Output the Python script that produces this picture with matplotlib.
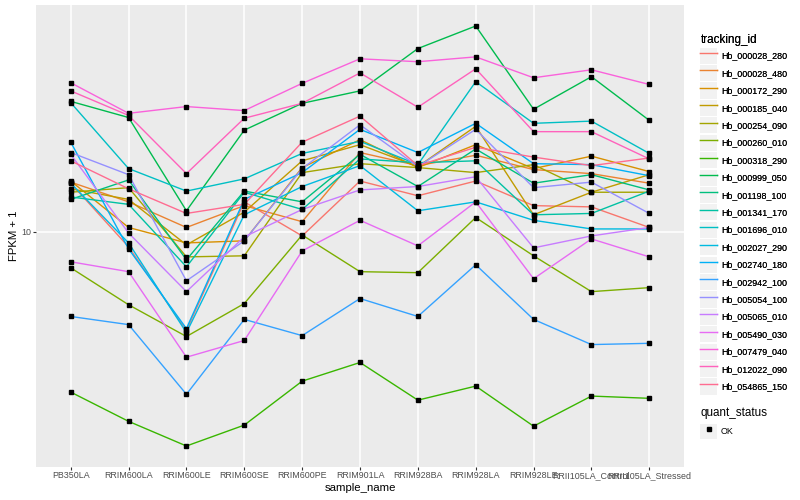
import numpy as np
import matplotlib.pyplot as plt
from matplotlib.lines import Line2D
from matplotlib.patches import Patch
from matplotlib.ticker import NullLocator

plt.rcParams['font.family'] = ['Liberation Sans', 'DejaVu Sans']

samples = ['PB350LA', 'RRIM600LA', 'RRIM600LE', 'RRIM600SE', 'RRIM600PE',
           'RRIM901LA', 'RRIM928BA', 'RRIM928LA', 'RRIM928LE',
           'RRII105LA_Control', 'RRII105LA_Stressed']

tracking_ids = ['Hb_000028_280', 'Hb_000028_480', 'Hb_000172_290', 'Hb_000185_040',
                'Hb_000254_090', 'Hb_000260_010', 'Hb_000318_290', 'Hb_000999_050',
                'Hb_001198_100', 'Hb_001341_170', 'Hb_001696_010', 'Hb_002027_290',
                'Hb_002740_180', 'Hb_002942_100', 'Hb_005054_100', 'Hb_005065_010',
                'Hb_005490_030', 'Hb_007479_040', 'Hb_012022_090', 'Hb_054865_150']

# ggplot default hue palette for 20 groups
colors = ['#F8766D', '#EA8331', '#D89000', '#C09B00', '#A3A500', '#7CAE00',
          '#39B600', '#00BB4E', '#00BF7D', '#00C1A3', '#00BFC4', '#00BAE0',
          '#00B0F6', '#35A2FF', '#9590FF', '#C77CFF', '#E76BF3', '#FA62DB',
          '#FF62BC', '#FF6C91']

# FPKM + 1, one list per tracking id (order follows samples)
hb_000028_280 = [13.8, 9.06, 5.21, 12.2, 9.74, 14.0, 12.7, 14.0, 11.9, 11.8, 10.3]
hb_000028_480 = [13.9, 12.2, 10.3, 11.9, 10.7, 16.9, 15.5, 16.6, 15.1, 14.7, 13.8]
hb_000172_290 = [14.0, 10.3, 9.30, 9.43, 15.3, 18.4, 15.3, 17.8, 15.2, 16.5, 14.9]
hb_000185_040 = [13.3, 12.4, 9.18, 11.4, 16.0, 17.8, 15.4, 20.1, 11.2, 13.0, 14.6]
hb_000254_090 = [13.0, 13.4, 8.48, 8.54, 14.8, 15.7, 15.3, 14.8, 15.6, 13.0, 13.0]
hb_000260_010 = [7.89, 6.18, 5.01, 6.23, 9.80, 7.69, 7.64, 11.0, 8.54, 6.74, 6.92]
hb_000318_290 = [3.47, 2.86, 2.43, 2.79, 3.73, 4.22, 3.29, 3.61, 2.77, 3.38, 3.33]
hb_000999_050 = [23.7, 21.3, 11.5, 19.6, 23.4, 25.4, 33.6, 39.0, 22.5, 27.9, 20.9]
hb_001198_100 = [12.4, 14.1, 8.32, 13.1, 12.2, 16.7, 13.5, 17.3, 13.8, 14.6, 13.2]
hb_001341_170 = [12.6, 12.0, 7.94, 13.0, 11.6, 16.2, 15.8, 16.0, 11.2, 11.3, 13.1]
hb_001696_010 = [23.5, 15.2, 13.1, 14.2, 16.8, 18.2, 15.6, 27.0, 20.5, 20.8, 16.8]
hb_002027_290 = [13.8, 9.30, 5.14, 11.2, 13.5, 15.5, 11.5, 12.2, 10.8, 10.2, 10.2]
hb_002740_180 = [18.1, 8.94, 5.28, 12.4, 14.8, 19.7, 16.9, 20.5, 15.7, 15.6, 14.5]
hb_002942_100 = [5.72, 5.42, 3.42, 5.61, 5.04, 6.44, 5.72, 8.05, 5.61, 4.75, 4.79]
hb_005054_100 = [16.9, 14.6, 7.24, 9.43, 15.2, 20.3, 15.4, 19.7, 13.4, 13.9, 11.3]
hb_005065_010 = [16.7, 9.93, 6.74, 9.68, 11.6, 13.2, 13.5, 14.4, 9.00, 9.74, 10.3]
hb_005490_030 = [8.21, 7.69, 4.37, 4.88, 8.82, 10.8, 9.12, 12.2, 7.34, 9.55, 8.48]
hb_007479_040 = [26.8, 21.9, 22.9, 22.3, 26.7, 31.4, 30.8, 31.8, 27.7, 29.2, 26.5]
hb_012022_090 = [25.4, 21.6, 14.7, 21.2, 23.4, 28.6, 22.8, 29.4, 19.4, 19.4, 16.2]
hb_054865_150 = [16.0, 13.3, 11.3, 12.0, 18.1, 21.5, 15.5, 17.5, 16.4, 15.5, 16.3]

series = [hb_000028_280, hb_000028_480, hb_000172_290, hb_000185_040, hb_000254_090,
          hb_000260_010, hb_000318_290, hb_000999_050, hb_001198_100, hb_001341_170,
          hb_001696_010, hb_002027_290, hb_002740_180, hb_002942_100, hb_005054_100,
          hb_005065_010, hb_005490_030, hb_007479_040, hb_012022_090, hb_054865_150]

fig = plt.figure(figsize=(8, 5), dpi=100)
ax = fig.add_axes([36 / 800, 33 / 500, 648 / 800, 462 / 500])
ax.set_facecolor('#EBEBEB')

x = np.arange(len(samples))
for vals, c in zip(series, colors):
    ax.plot(x, vals, color=c, lw=1.0, zorder=2)
for vals in series:
    ax.plot(x, vals, ls='none', marker='s', ms=2.3, color='black', zorder=3)

ax.set_yscale('log')
allv = np.concatenate([np.asarray(s) for s in series])
lo, hi = np.log10(allv.min()), np.log10(allv.max())
pad = 0.05 * (hi - lo)
ax.set_ylim(10 ** (lo - pad), 10 ** (hi + pad))
ax.set_xlim(-0.6, len(samples) - 0.4)
ax.set_yticks([10])
ax.set_yticklabels(['10'])
ax.yaxis.set_minor_locator(NullLocator())
ax.set_xticks(x)
ax.set_xticklabels(samples)
ax.grid(True, color='white', lw=1.1, zorder=0)
ax.set_axisbelow(True)
for s in ax.spines.values():
    s.set_visible(False)
ax.tick_params(colors='#333333', labelcolor='#4D4D4D', labelsize=6.4,
               length=2.0, width=0.8, pad=1.2)
ax.set_xlabel('sample_name', fontsize=8.2, labelpad=1.5)
ax.set_ylabel('FPKM + 1', fontsize=8.2, labelpad=2)

handles = [(Patch(facecolor='#F2F2F2', edgecolor='none'),
            Line2D([], [], color=c, lw=1.0)) for c in colors]
leg1 = fig.legend(handles, tracking_ids, title='tracking_id', loc='upper left',
                  bbox_to_anchor=(696 / 800, 1 - 30 / 500), frameon=False,
                  fontsize=6.4, title_fontsize=8.4, handlelength=1.85, handleheight=2.42,
                  labelspacing=0.14, handletextpad=0.45, borderpad=0,
                  alignment='left')
fig.add_artist(leg1)

ok_handle = (Patch(facecolor='#F2F2F2', edgecolor='none'),
             Line2D([], [], ls='none', marker='s', ms=2.3, color='black'))
leg2 = fig.legend([ok_handle], ['OK'], title='quant_status', loc='upper left',
                  bbox_to_anchor=(696 / 800, 1 - 403 / 500), frameon=False,
                  fontsize=6.4, title_fontsize=8.4, handlelength=1.85, handleheight=2.2,
                  handletextpad=0.45, borderpad=0, alignment='left')

fig.savefig('out.png', dpi=100)
